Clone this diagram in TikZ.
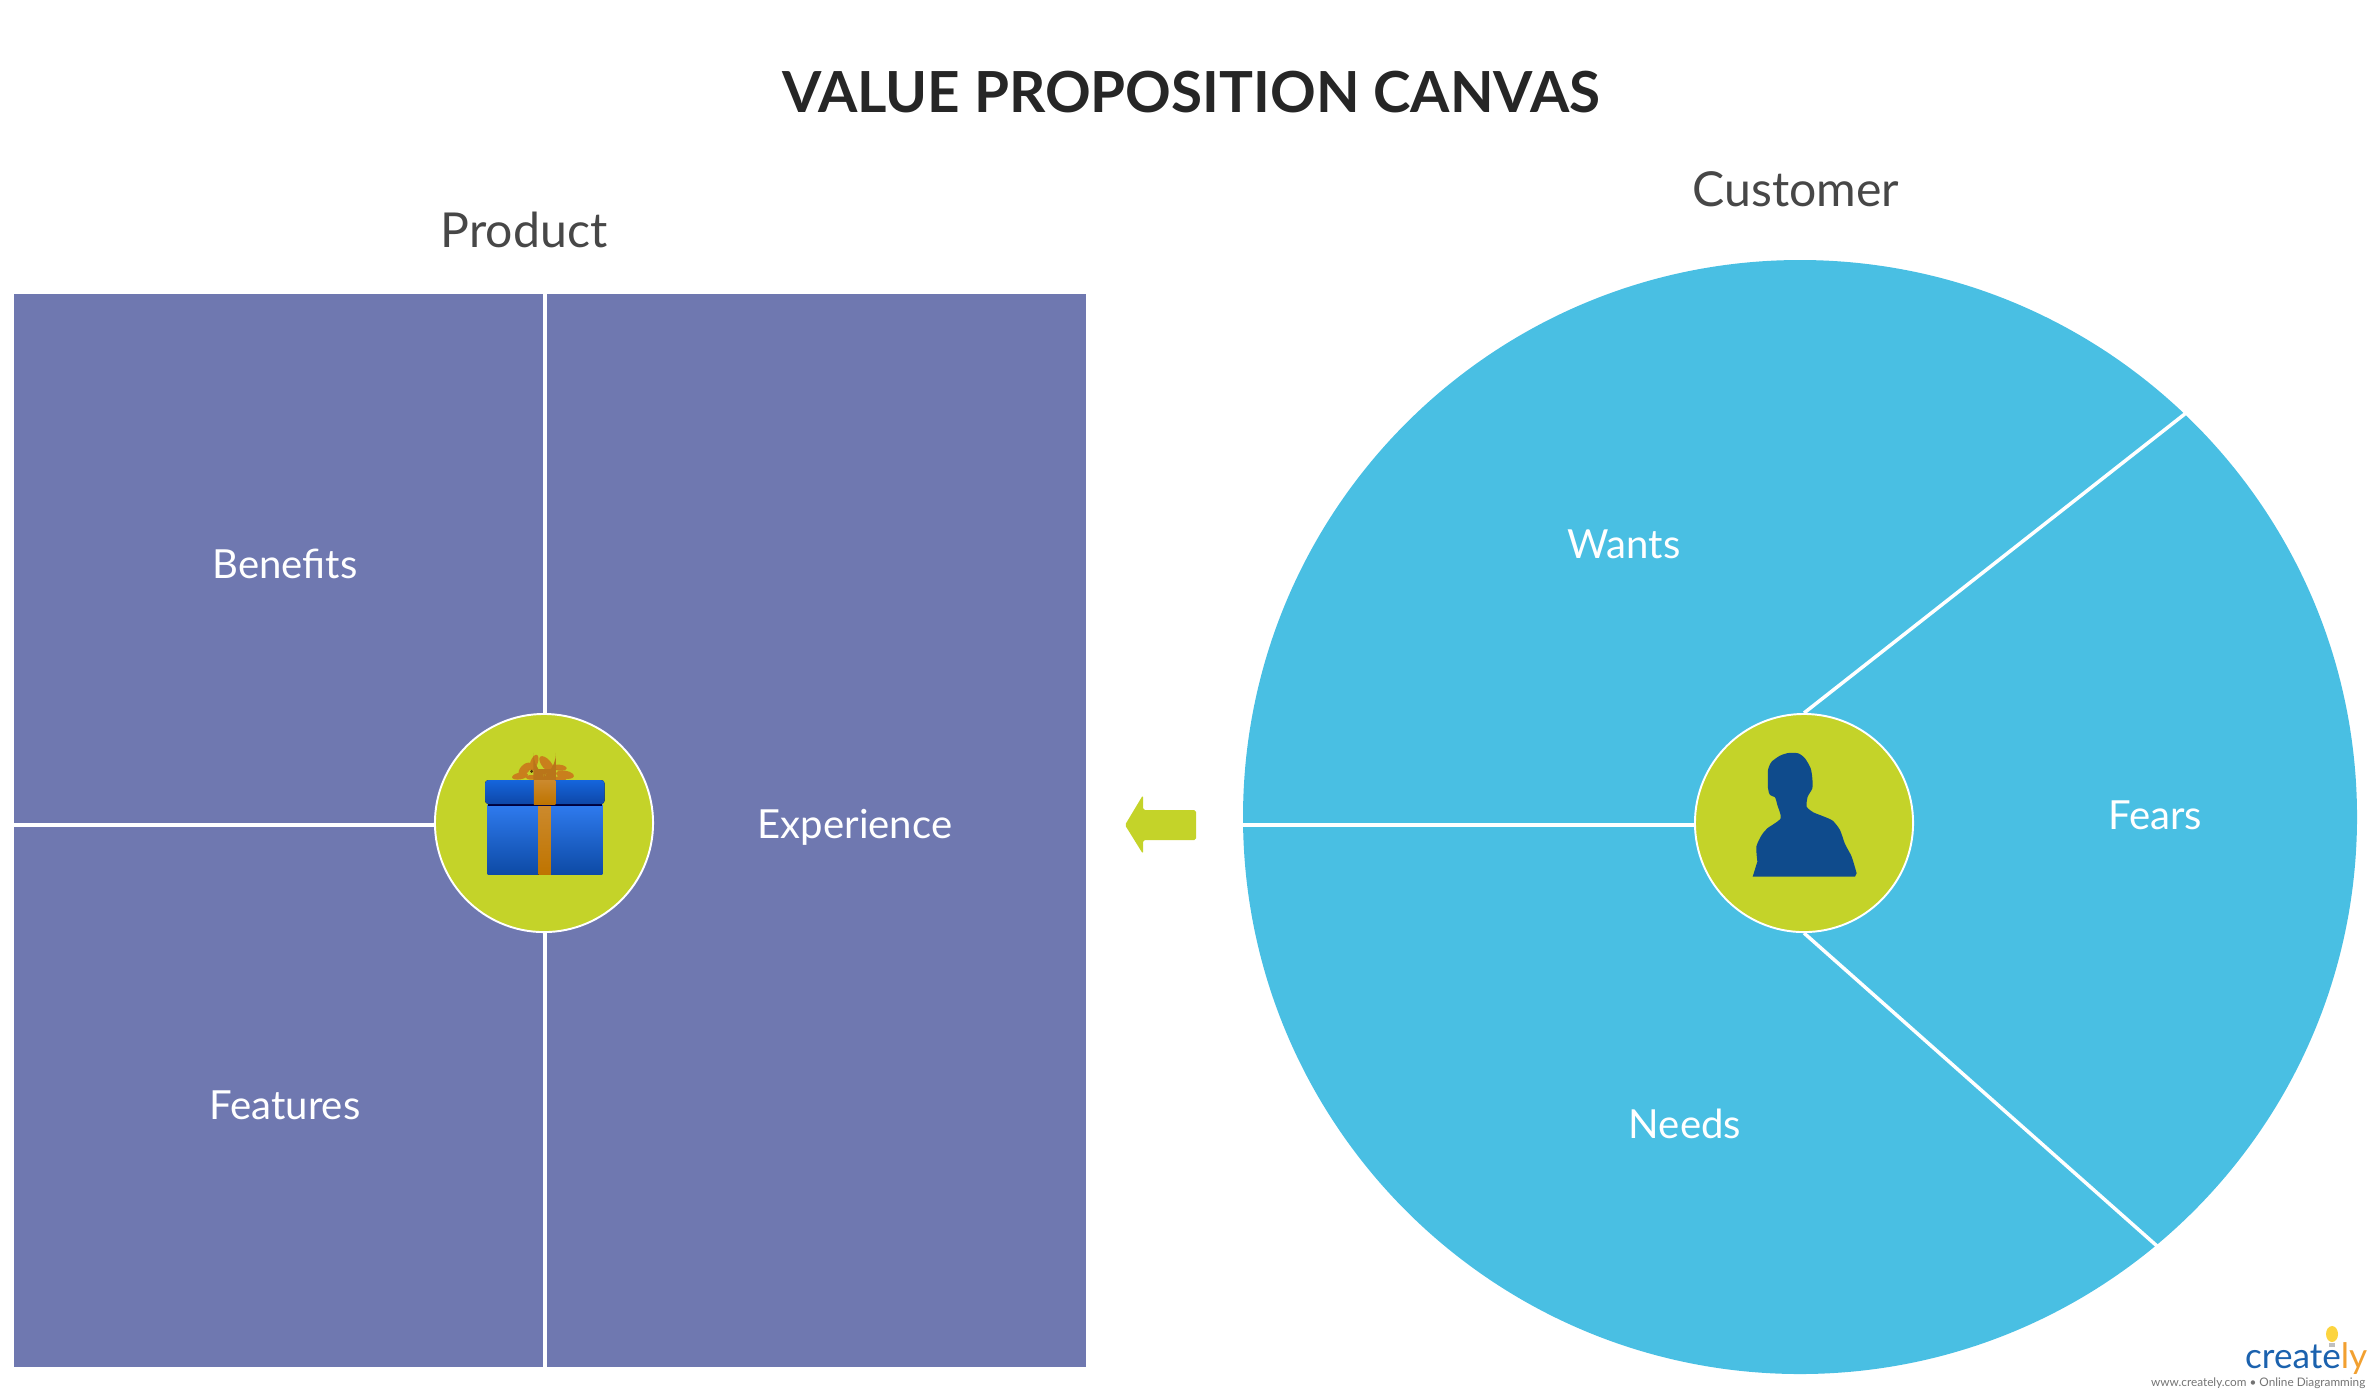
\documentclass[tikz,border=0pt]{standalone}
\usepackage{fontspec}
\setmainfont{Lato}
\usepackage{xcolor}
\usetikzlibrary{calc}

\definecolor{canvasPurple}{HTML}{6F78B0}
\definecolor{canvasCyan}{HTML}{49BFE3}
\definecolor{canvasGreen}{HTML}{C4D329}
\definecolor{personBlue}{HTML}{0F4B8C}
\definecolor{ribbonOrange}{HTML}{C97F1C}
\definecolor{ribbonTop}{RGB}{204,138,46}
\definecolor{ribbonLow}{RGB}{191,116,0}
\definecolor{boxTop}{RGB}{47,123,239}
\definecolor{boxLow}{RGB}{13,74,165}
\definecolor{lidTop}{RGB}{21,101,220}
\definecolor{lidLow}{RGB}{14,71,168}
\definecolor{logoBlue}{HTML}{1B62AE}
\definecolor{logoOrange}{HTML}{F2A030}

\tikzset{
  title/.style={font=\fontsize{16.1}{20}\selectfont\bfseries, text=black!85},
  heading/.style={font=\fontsize{13.7}{16}\selectfont, text=black!72},
  field/.style={font=\fontsize{11.4}{14}\selectfont, text=white},
  hub/.style={circle, draw=white, line width=0.55pt, fill=canvasGreen,
    minimum size=2.18cm, inner sep=0pt},
  divider/.style={draw=white, line width=1.2pt},
}

\begin{document}
\begin{tikzpicture}[x=0.01cm,y=-0.01cm]

% ------------------------
% PARAMETERS
% ------------------------
\def\hubY{823}
\def\lineY{825}
\def\giftX{544}
\def\lineX{545}
\def\custX{1804}

\useasboundingbox (0,0) rectangle (2380,1399);

% ------------------------
% Title and headings
% ------------------------
\node[title] (canvasTitle) at (1191,92) {VALUE PROPOSITION CANVAS};
\node[heading] (productHead) at (524,230) {Product};
\node[heading] (customerHead) at (1796,189) {Customer};

% ------------------------
% Product square
% ------------------------
\fill[canvasPurple] (14,294) rectangle (1086,1367);

\node[hub] (giftHub) at (\giftX,\hubY) {};
\coordinate (giftTop) at (\lineX,294);
\coordinate (giftBottom) at (\lineX,1367);
\coordinate (giftLeft) at (14,\lineY);
\draw[divider] (giftTop |- giftHub.north) -- (giftTop);
\draw[divider] (giftBottom |- giftHub.south) -- (giftBottom);
\draw[divider] (giftHub.west |- giftLeft) -- (giftLeft);

\node[field] (benefitsLabel) at (285,564) {Benefits};
\node[field] (featuresLabel) at (285,1105) {Features};
\node[field] (experienceLabel) at (855,827) {Experience};

% ------------------------
% Gift icon
% ------------------------
\begin{scope}[shift={(420,700)},scale=0.3333]
  \foreach \x/\y/\a/\b/\r in {342/188/11/25/-20, 315/207/13/24/-45, 300/228/24/10/10,
      380/193/14/30/40, 418/203/22/9/-5, 435/224/27/12/-10, 335/232/18/7/0, 422/236/18/8/0}{
    \fill[ribbonOrange, rotate around={\r:(\x,\y)}] (\x,\y) ellipse ({\a} and {\b});
  }
  \fill[black!60!ribbonOrange] (335,214) circle (5);
  \fill[ribbonOrange!92!black, rounded corners=8] (340,207) rectangle (408,243);
  \fill[bottom color=boxLow, top color=boxTop] (203,312) rectangle (547,524);
  \fill[bottom color=ribbonLow, top color=ribbonTop] (355,312) rectangle (393,524);
  \fill[black!75!blue] (203,312) rectangle (547,318);
  \fill[bottom color=lidLow, top color=lidTop, rounded corners=1] (195,240) rectangle (554,312);
  \fill[bottom color=ribbonLow, top color=ribbonTop] (342,240) rectangle (406,312);
\end{scope}

% ------------------------
% Direction arrow
% ------------------------
\fill[canvasGreen, rounded corners=0.5] (1125,825) -- (1143,795) -- (1143,810) -- (1196,810)
  -- (1196,840) -- (1143,840) -- (1143,854) -- cycle;

% ------------------------
% Customer circle
% ------------------------
\fill[canvasCyan] (1800,817) circle (557);

\node[hub] (custHub) at (\custX,\hubY) {};
\coordinate (custLeft) at (1243,\lineY);
\coordinate (custUpper) at (2186,413);
\coordinate (custLower) at (2157,1246);
\draw[divider] (custHub.west |- custLeft) -- (custLeft);
\draw[divider, line width=1pt] (custHub.north) -- (custUpper);
\draw[divider, line width=1pt] (custHub.south) -- (custLower);

\node[field] (wantsLabel) at (1624,544) {Wants};
\node[field] (fearsLabel) at (2155,815) {Fears};
\node[field] (needsLabel) at (1685,1124) {Needs};

% ------------------------
% Person icon
% ------------------------
\begin{scope}[shift={(1680,700)},scale=0.3333]
  \fill[personBlue] (218,530) -- plot[smooth, tension=0.4] coordinates {(232,485) (229,440) (245,405)
    (262,385) (302,355) (292,315) (285,292) (270,285) (264,265) (264,210) (275,185) (300,167)
    (325,159) (355,160) (375,175) (392,205) (397,235) (397,265) (383,290) (380,320) (400,337)
    (430,349) (458,362) (480,390) (495,432) (515,470) (530,520)} -- (525,530) -- cycle;
\end{scope}

% ------------------------
% Logo
% ------------------------
\fill[yellow!60!orange!75] (2332,1334) ellipse (6 and 8);
\fill[black!25] (2329,1343) rectangle (2335,1347);
\node[anchor=base east, inner sep=0pt, font=\fontsize{10}{12}\selectfont] (logoText) at (2368,1368)
  {\textcolor{logoBlue}{create}\textcolor{logoOrange}{ly}};
\node[anchor=base east, inner sep=0pt, font=\fontsize{3.35}{4}\selectfont, text=black!55] (logoLine) at (2366,1386)
  {www.creately.com • Online Diagramming};

\end{tikzpicture}
\end{document}
